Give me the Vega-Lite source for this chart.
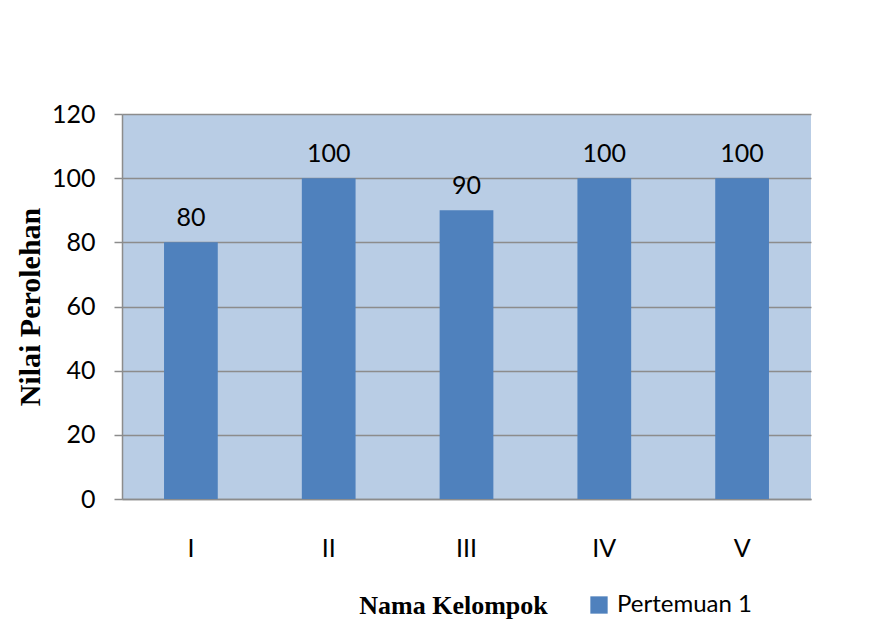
{
  "$schema": "https://vega.github.io/schema/vega-lite/v6.json",
  "width": 689,
  "height": 385,
  "autosize": {"type": "none"},
  "padding": {"left": 122, "top": 114, "right": 61, "bottom": 126},
  "background": "white",
  "config": {
    "view": {"fill": "#b9cde5", "stroke": null},
    "font": "Lato"
  },
  "data": {
    "values": [
      {"kelompok": "I", "nilai": 80, "seri": "Pertemuan 1"},
      {"kelompok": "II", "nilai": 100, "seri": "Pertemuan 1"},
      {"kelompok": "III", "nilai": 90, "seri": "Pertemuan 1"},
      {"kelompok": "IV", "nilai": 100, "seri": "Pertemuan 1"},
      {"kelompok": "V", "nilai": 100, "seri": "Pertemuan 1"}
    ]
  },
  "encoding": {
    "x": {
      "field": "kelompok",
      "type": "nominal",
      "sort": ["I", "II", "III", "IV", "V"],
      "scale": {"paddingInner": 0, "paddingOuter": 0},
      "axis": {
        "title": "Nama Kelompok",
        "titleFont": "Liberation Serif",
        "titleFontWeight": "bold",
        "titleFontSize": 26,
        "titleColor": "black",
        "titleX": 331,
        "titleY": 114,
        "titleBaseline": "alphabetic",
        "titleAnchor": "middle",
        "labelAngle": 0,
        "labelFontSize": 25,
        "labelColor": "black",
        "labelPadding": 37,
        "ticks": false,
        "domainColor": "#8c8c8c",
        "domainWidth": 1.5,
        "grid": false
      }
    },
    "y": {
      "field": "nilai",
      "type": "quantitative",
      "scale": {"domain": [0, 120], "nice": false},
      "axis": {
        "title": "Nilai Perolehan",
        "titleFont": "Liberation Serif",
        "titleFontWeight": "bold",
        "titleFontSize": 30,
        "titleColor": "black",
        "titlePadding": 6,
        "values": [0, 20, 40, 60, 80, 100, 120],
        "labelFontSize": 25,
        "labelColor": "black",
        "labelPadding": 19,
        "tickSize": 8,
        "tickColor": "#8c8c8c",
        "tickWidth": 1.5,
        "domainColor": "#8c8c8c",
        "domainWidth": 1.5,
        "gridColor": "#8c8c8c",
        "gridWidth": 1.5,
        "gridOpacity": 1
      }
    }
  },
  "layer": [
    {
      "mark": {"type": "bar", "width": {"band": 0.39}},
      "encoding": {
        "color": {
          "field": "seri",
          "type": "nominal",
          "scale": {"range": ["#4f81bd"]},
          "legend": {
            "title": null,
            "orient": "none",
            "legendX": 465,
            "legendY": 479,
            "padding": 0,
            "symbolType": "square",
            "symbolSize": 300,
            "symbolStrokeWidth": 0,
            "labelFontSize": 24,
            "labelColor": "black",
            "labelOffset": 6,
            "labelLimit": 300
          }
        }
      }
    },
    {
      "mark": {"type": "text", "fontSize": 25, "color": "black", "baseline": "alphabetic", "dy": -16},
      "encoding": {
        "text": {"field": "nilai", "type": "quantitative"}
      }
    }
  ]
}
